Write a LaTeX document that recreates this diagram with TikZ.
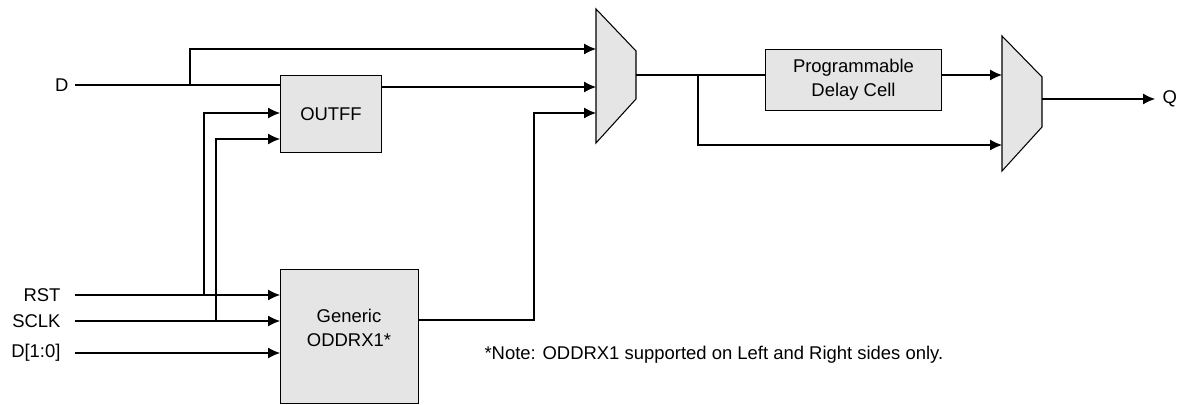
\documentclass[tikz,border=0pt]{standalone}
\usepackage{fontspec}
\setmainfont{Liberation Sans}
\usetikzlibrary{arrows.meta}
\usetikzlibrary{positioning}
\tikzset{>={Latex[length=2.4mm,width=2.2mm]}}
\tikzset{blk/.style={draw, fill=gray!20, inner sep=0pt, anchor=north west, align=center}}
\tikzset{muxbody/.style={draw, fill=gray!20}}
\tikzset{pin/.style={inner sep=0pt}}

\begin{document}
\begin{tikzpicture}[x=0.02cm, y=-0.02cm, line width=0.6pt, node distance=0.28cm,
        font=\fontsize{10.5}{13.6}\selectfont]
            \useasboundingbox (0,0) rectangle (1180,405);
            % blocks
            \node [blk, minimum width=2.02cm, minimum height=1.54cm] (outff) at (280,75) {OUTFF};
            \node [blk, minimum width=2.76cm, minimum height=2.68cm] (oddr) at (280,269) {};
            \node [pin, align=center] (oddrtxt) at (349,328) {Generic\\ODDRX1*};
            \node [blk, minimum width=3.52cm, minimum height=1.22cm] (dly) at (765,49) {Programmable\\Delay Cell};
            \draw [muxbody] (596,9) -- (636,51) -- (636,99) -- (596,143) -- cycle;
            \draw [muxbody] (1002,36) -- (1042,77) -- (1042,127) -- (1002,171) -- cycle;
            \coordinate (m1a) at (596,49);
            \coordinate (m1b) at (596,87);
            \coordinate (m1c) at (596,113);
            \coordinate (m1o) at (636,75);
            \coordinate (m2a) at (1002,75);
            \coordinate (m2b) at (1002,145);
            \coordinate (m2o) at (1042,99);
            % inputs
            \coordinate (din) at (75,85);
            \coordinate (rstin) at (75,295);
            \coordinate (sclkin) at (75,321);
            \coordinate (ddrin) at (75,353);
            \node [pin, left=0.12cm of din] (dlbl) {D};
            \node [pin, left=of rstin] (rstlbl) {RST};
            \node [pin, left=of sclkin] (sclklbl) {SCLK};
            \node [pin, left=of ddrin] (ddrlbl) {D[1:0]};
            \coordinate (dtap) at (190,85);
            \coordinate (rsttap) at (204,295);
            \coordinate (sclktap) at (216,321);
            \coordinate (ffr) at (280,113);
            \coordinate (ffc) at (280,139);
            \coordinate (oddro) at (418,320);
            \coordinate (ocol) at (534,0);
            \coordinate (dtap2) at (698,75);
            \coordinate (qend) at (1155,99);
            \node [pin, right=0.14cm of qend] (qlbl) {Q};
            % connections
            \draw (din) -- (outff.west |- din);
            \draw [->] (dtap) |- (m1a);
            \draw [->] (outff.east |- m1b) -- (m1b);
            \draw [->] (rstin) -- (oddr.west |- rstin);
            \draw [->] (sclkin) -- (oddr.west |- sclkin);
            \draw [->] (ddrin) -- (oddr.west |- ddrin);
            \draw [->] (rsttap) |- (ffr);
            \draw [->] (sclktap) |- (ffc);
            \draw [->] (oddro) -| (ocol |- m1c) -- (m1c);
            \draw (m1o) -- (dly.west |- m1o);
            \draw [->] (dtap2) |- (m2b);
            \draw [->] (dly.east |- m2a) -- (m2a);
            \draw [->] (m2o) -- (qend);
            \node [pin, anchor=west] (note) at (484,355) {*Note: ODDRX1 supported on Left and Right sides only.};
        \end{tikzpicture}
\end{document}
